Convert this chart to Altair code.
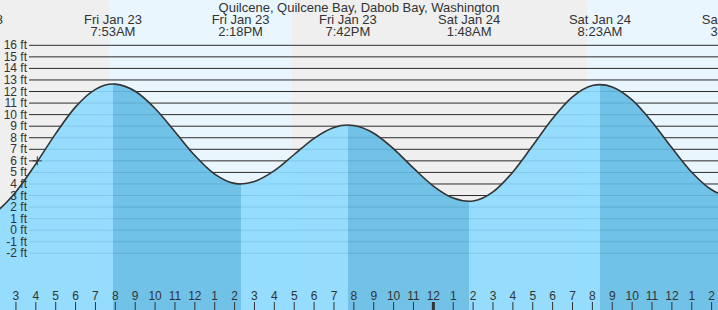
import altair as alt
import pandas as pd

FONT = "Liberation Sans"
TXT = "#333333"

# ---- data (hours counted from Fri Jan 23, 00:00) ----
title_text = "Quilcene, Quilcene Bay, Dabob Bay, Washington"

event_hours = [0.9, 7.883, 14.3, 19.7, 25.8, 32.383, 39.07]
event_heights = [0.9, 12.65, 4.0, 9.1, 2.5, 12.6, 2.9]
event_dates = ["Fri Jan 23", "Fri Jan 23", "Fri Jan 23", "Fri Jan 23",
               "Sat Jan 24", "Sat Jan 24", "Sat Jan 24"]
event_times = ["12:54AM", "7:53AM", "2:18PM", "7:42PM", "1:48AM", "8:23AM", "3:04PM"]

hourly_hours = list(range(1, 40))
hourly_heights = [0.91, 1.60, 3.33, 5.74, 8.36, 10.67, 12.19,
                  12.64, 12.02, 10.53, 8.52, 6.46, 4.85, 4.05,
                  4.21, 5.15, 6.55, 7.95, 8.89,
                  9.06, 8.39, 7.04, 5.37, 3.82, 2.78,
                  2.52, 3.31, 5.04, 7.33, 9.67, 11.54, 12.52,
                  12.40, 11.27, 9.37, 7.13, 5.02, 3.50, 2.90]

bg_start = [0, 7.732, 16.889, 31.728]
bg_end = [7.732, 16.889, 31.728, 40]
bg_kind = ["night", "day", "night", "day"]

grid_levels = list(range(-2, 17))
grid_labels = [f"{v} ft" for v in grid_levels]

hour_ticks = list(range(3, 39))
hour_labels = ["3", "4", "5", "6", "7", "8", "9", "10", "11", "12", "1", "2",
               "3", "4", "5", "6", "7", "8", "9", "10", "11", "12", "1", "2",
               "3", "4", "5", "6", "7", "8", "9", "10", "11", "12", "1", "2"]
midnight = 24

now_hour = [4.075]
now_height = [6.0]

X_DOMAIN = [2.198, 38.32]
Y_DOMAIN = [-6.906, 19.92]

# ---- tables ----
curve = pd.DataFrame({"hour": event_hours + hourly_hours,
                      "ft": event_heights + hourly_heights}).sort_values("hour")
events = pd.DataFrame({"hour": event_hours, "ft": event_heights,
                       "date": event_dates, "time": event_times})
bg = pd.DataFrame({"start": bg_start, "end": bg_end, "kind": bg_kind})
grid = pd.DataFrame({"ft": grid_levels, "label": grid_labels})
ticks = pd.DataFrame({"hour": hour_ticks, "label": hour_labels})
now = pd.DataFrame({"hour": now_hour, "ft": now_height})
title_df = pd.DataFrame({"t": [title_text]})

xs = alt.Scale(domain=X_DOMAIN, nice=False, zero=False)
ys = alt.Scale(domain=Y_DOMAIN, nice=False, zero=False)


def X(field):
    return alt.X(field, type="quantitative", scale=xs, axis=None)


def Y(field):
    return alt.Y(field, type="quantitative", scale=ys, axis=None)


LIGHT = "#8cdaff"
DARK = "#64bce5"
x0 = curve["hour"].min()
span = curve["hour"].max() - x0
stops = [alt.GradientStop(color=LIGHT, offset=0)]
for i, h in enumerate(event_hours[1:-1], start=1):
    off = (h - x0) / span
    before, after = (LIGHT, DARK) if i % 2 == 1 else (DARK, LIGHT)
    stops += [alt.GradientStop(color=before, offset=off),
              alt.GradientStop(color=after, offset=off)]
stops.append(alt.GradientStop(color=DARK, offset=1))

background = alt.Chart(bg).mark_rect(clip=True).encode(
    x=X("start"),
    x2="end:Q",
    color=alt.Color("kind:N", scale=alt.Scale(domain=["night", "day"],
                                              range=["#efefef", "#eaf6fe"]), legend=None),
)

grid_dark = alt.Chart(grid).mark_rule(color="#2b2b2b", strokeWidth=1).encode(
    y=Y("ft"), x=alt.value(29), x2=alt.value(718),
)

grid_text = alt.Chart(grid).mark_text(
    font=FONT, fontSize=12, color=TXT, align="right", baseline="middle",
).encode(y=Y("ft"), x=alt.value(27), text="label:N")

area = alt.Chart(curve).mark_area(
    interpolate="monotone", clip=True, fillOpacity=0.9,
    color=alt.Gradient(gradient="linear", stops=stops, x1=0, x2=1, y1=0, y2=0),
).encode(x=X("hour"), y=Y("ft"), y2=alt.datum(Y_DOMAIN[0]))

line = alt.Chart(curve).mark_line(
    interpolate="monotone", clip=True, color="#333333", strokeWidth=1.6,
).encode(x=X("hour"), y=Y("ft"))

marker = alt.Chart(now).mark_point(
    shape="M-1,0L1,0M0,-1L0,1", size=81, filled=False, stroke="#333333",
    strokeWidth=1, opacity=1,
).encode(x=X("hour"), y=Y("ft"))

tick_marks = alt.Chart(ticks).mark_rule(color=TXT).encode(
    x=X("hour"), y=alt.value(302), y2=alt.value(310),
    strokeWidth=alt.condition(f"datum.hour == {midnight}", alt.value(3), alt.value(1)),
)

tick_text = alt.Chart(ticks).mark_text(
    font=FONT, fontSize=12, color=TXT, align="center", baseline="alphabetic",
).encode(x=X("hour"), y=alt.value(300), text="label:N")

date_labels = alt.Chart(events).mark_text(
    font=FONT, fontSize=13, color=TXT, align="center", baseline="alphabetic", clip=True,
).encode(x=X("hour"), y=alt.value(24), text="date:N")

time_labels = alt.Chart(events).mark_text(
    font=FONT, fontSize=13, color=TXT, align="center", baseline="alphabetic", clip=True,
).encode(x=X("hour"), y=alt.value(36), text="time:N")

title = alt.Chart(title_df).mark_text(
    font=FONT, fontSize=13, color=TXT, align="center", baseline="alphabetic",
).encode(x=alt.value(359), y=alt.value(12), text="t:N")

chart = alt.layer(
    background, grid_dark, area, line, marker, grid_text, tick_marks, tick_text,
    date_labels, time_labels, title
).properties(
    width=718, height=310, padding=0,
    autosize=alt.AutoSizeParams(type="none"),
    background="white",
).configure_view(stroke=None)

chart.save("out.html", embed_options={"renderer": "svg", "actions": False})
